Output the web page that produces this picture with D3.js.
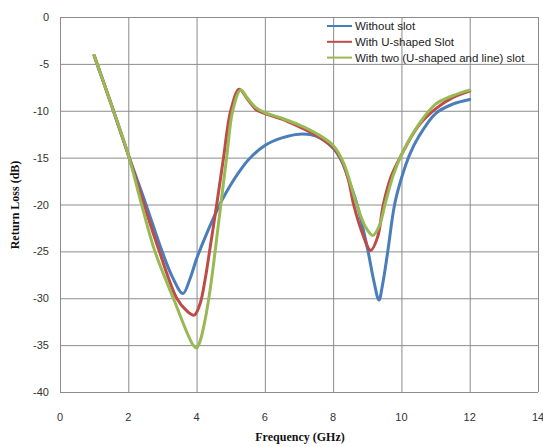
<!DOCTYPE html>
<html>
<head>
<meta charset="utf-8">
<script src="https://cdn.jsdelivr.net/npm/d3@7"></script>
<style>
  body { margin: 0; background: #fff; }
  svg { display: block; }
</style>
</head>
<body>
<script>
const width = 543;
const height = 447;

// data
const seriesNames = ["Without slot", "With U-shaped Slot", "With two (U-shaped and line) slot"];
const seriesColors = ["#4a7ebb", "#be4b48", "#98b954"];

const freqNoSlot = [1.0, 1.5, 2.0, 2.5, 3.0, 3.3, 3.6, 3.8, 4.0, 4.25, 4.5, 4.75, 5.0, 5.25, 5.5, 6.0, 6.5, 7.0, 7.5, 8.0, 8.25, 8.5, 8.7, 9.0, 9.2, 9.34, 9.45, 9.6, 9.8, 10.0, 10.25, 10.5, 11.0, 11.5, 12.0];
const lossNoSlot = [-4.1, -9.3, -14.7, -19.8, -25.1, -27.8, -29.5, -28.0, -25.8, -23.5, -21.4, -19.5, -17.9, -16.5, -15.3, -13.7, -12.9, -12.5, -12.7, -14.0, -15.4, -17.8, -20.0, -24.6, -28.3, -30.2, -28.5, -25.0, -20.0, -17.2, -14.6, -12.8, -10.3, -9.3, -8.8];

const freqUSlot = [1.0, 1.5, 2.0, 2.46, 2.91, 3.42, 3.7, 3.93, 4.1, 4.25, 4.38, 4.59, 4.79, 5.0, 5.25, 5.5, 5.75, 6.0, 6.5, 7.0, 7.5, 8.0, 8.25, 8.45, 8.6, 8.85, 9.1, 9.3, 9.47, 9.7, 10.0, 10.5, 11.0, 11.5, 12.0];
const lossUSlot = [-4.1, -9.3, -14.7, -20.0, -25.0, -30.0, -31.3, -31.8, -30.6, -28.0, -25.0, -20.0, -15.0, -10.0, -7.7, -8.8, -9.9, -10.3, -10.9, -11.7, -12.6, -13.9, -15.3, -17.4, -20.0, -23.0, -24.9, -23.5, -20.0, -17.0, -14.7, -11.6, -9.8, -8.6, -7.9];

const freqTwoSlot = [1.0, 1.5, 2.0, 2.39, 2.78, 3.32, 3.9, 4.0, 4.1, 4.25, 4.4, 4.55, 4.71, 4.88, 5.06, 5.29, 5.5, 5.75, 6.0, 6.5, 7.0, 7.5, 8.0, 8.3, 8.69, 8.95, 9.16, 9.35, 9.52, 9.75, 10.0, 10.5, 11.0, 11.5, 12.0];
const lossTwoSlot = [-4.1, -9.3, -14.7, -20.0, -25.0, -30.0, -35.0, -35.3, -34.6, -32.3, -29.0, -24.8, -20.0, -15.0, -10.0, -7.8, -8.7, -9.7, -10.2, -10.8, -11.5, -12.4, -13.7, -15.5, -20.0, -22.4, -23.3, -22.3, -20.0, -17.0, -14.7, -11.5, -9.3, -8.4, -7.8];

const xTicks = [0, 2, 4, 6, 8, 10, 12, 14];
const yTicks = [0, -5, -10, -15, -20, -25, -30, -35, -40];

const series = [
  { name: seriesNames[0], color: seriesColors[0], freq: freqNoSlot, loss: lossNoSlot },
  { name: seriesNames[1], color: seriesColors[1], freq: freqUSlot, loss: lossUSlot },
  { name: seriesNames[2], color: seriesColors[2], freq: freqTwoSlot, loss: lossTwoSlot }
];

const margin = { left: 60, right: 5, top: 17, bottom: 55 };

const x = d3.scaleLinear().domain([0, 14]).range([margin.left, width - margin.right]);
const y = d3.scaleLinear().domain([-40, 0]).range([height - margin.bottom, margin.top]);

const svg = d3.select("body").append("svg").attr("width", width).attr("height", height);

const gridColor = "#8c8c8c";
const tickFont = "'Liberation Sans', Arial, sans-serif";

// gridlines
svg.append("g")
    .selectAll("line")
    .data(xTicks)
    .enter()
    .append("line")
    .attr("x1", d => x(d) + 0.5)
    .attr("x2", d => x(d) + 0.5)
    .attr("y1", y(0))
    .attr("y2", y(-40))
    .attr("stroke", gridColor)
    .attr("stroke-width", 1);

svg.append("g")
    .selectAll("line")
    .data(yTicks)
    .enter()
    .append("line")
    .attr("x1", x(0))
    .attr("x2", x(14))
    .attr("y1", d => y(d) + 0.5)
    .attr("y2", d => y(d) + 0.5)
    .attr("stroke", gridColor)
    .attr("stroke-width", 1);

// tick labels
svg.append("g")
    .selectAll("text")
    .data(yTicks)
    .enter()
    .append("text")
    .attr("x", x(0) - 11)
    .attr("y", d => y(d) + 4)
    .attr("text-anchor", "end")
    .attr("font-family", tickFont)
    .attr("font-size", "11px")
    .attr("fill", "#333")
    .text(d => d);

svg.append("g")
    .selectAll("text")
    .data(xTicks)
    .enter()
    .append("text")
    .attr("x", d => x(d))
    .attr("y", y(-40) + 29)
    .attr("text-anchor", "middle")
    .attr("font-family", tickFont)
    .attr("font-size", "11px")
    .attr("fill", "#333")
    .text(d => d);

// axis titles
svg.append("text")
    .attr("x", 300)
    .attr("y", 441)
    .attr("text-anchor", "middle")
    .attr("font-family", "'Liberation Serif', 'Times New Roman', serif")
    .attr("font-weight", "bold")
    .attr("font-size", "12px")
    .attr("fill", "#111")
    .text("Frequency (GHz)");

svg.append("text")
    .attr("transform", "translate(19,205) rotate(-90)")
    .attr("text-anchor", "middle")
    .attr("font-family", "'Liberation Serif', 'Times New Roman', serif")
    .attr("font-weight", "bold")
    .attr("font-size", "12px")
    .attr("fill", "#111")
    .text("Return Loss (dB)");

// curves
const line = d3.line()
    .x(d => x(d[0]))
    .y(d => y(d[1]))
    .curve(d3.curveCatmullRom.alpha(0.5));

svg.append("g")
    .selectAll("path")
    .data(series)
    .enter()
    .append("path")
    .attr("d", s => line(s.freq.map((f, i) => [f, s.loss[i]])))
    .attr("fill", "none")
    .attr("stroke", s => s.color)
    .attr("stroke-width", 3)
    .attr("stroke-linejoin", "round")
    .attr("stroke-linecap", "round");

// legend
const legend = svg.append("g").attr("transform", "translate(327,26)");

const rows = legend.selectAll("g")
    .data(series)
    .enter()
    .append("g")
    .attr("transform", (d, i) => "translate(0," + (i * 15.8) + ")");

rows.append("line")
    .attr("x1", 0)
    .attr("x2", 25)
    .attr("y1", 0)
    .attr("y2", 0)
    .attr("stroke", d => d.color)
    .attr("stroke-width", 2);

rows.append("text")
    .attr("x", 28)
    .attr("y", 4)
    .attr("font-family", tickFont)
    .attr("font-size", "11.5px")
    .attr("fill", "#222")
    .text(d => d.name);
</script>
</body>
</html>
